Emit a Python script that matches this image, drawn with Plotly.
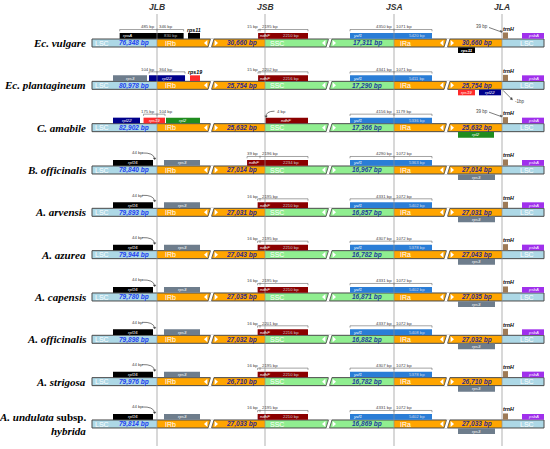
import plotly.graph_objects as go

# ---- values ----
species = ["Ec. vulgare", "Ec. plantagineum", "C. amabile", "B. officinalis",
           "A. arvensis", "A. azurea", "A. capensis", "A. officinalis",
           "A. strigosa", "A. undulata subsp. hybrida"]
lsc_bp = [76348, 80978, 82902, 78840, 79893, 79944, 79780, 79898, 79976, 79814]
ir_bp = [30660, 25754, 25632, 27014, 27031, 27043, 27035, 27032, 26710, 27033]
ssc_bp = [17311, 17290, 17366, 16967, 16857, 16782, 16871, 16882, 16782, 16869]
junctions = ["JLB", "JSB", "JSA", "JLA"]

# genes near JLB (above the bar) and below IRa
jlb_genes = [["rpoA", "rps11"], ["rps3", "rpl22", "rps19"], ["rpl22", "rps19", "rpl2"]] + [["rpl16", "rps3"]] * 7
jlb_cross = ["rpoA", "rpl22", "rps19"] + [None] * 7
jlb_left_bp = [485, 104, 175] + [None] * 7
jlb_right_bp = [346, 364, 104] + [None] * 7
rpoa_bp = 830
rpl16_gap_bp = [None, None, None, 44, 44, 44, 44, 44, 44, 44]
ira_genes = [["rps11"], ["rps19", "rpl22"], ["rpl2"]] + [["rps3"]] * 7

# ndhF at JSB
jsb_left_bp = [15, 15, None, 39, 16, 16, 16, 16, 16, 16]
jsb_right_bp = [2195, 2202, None, 2196, 2195, 2195, 2195, 2201, 2195, 2195]
ndhf_bp = [2210, 2216, None, 2234, 2210, 2210, 2210, 2216, 2210, 2210]
ndhf_gap_bp = [None, None, 4, None, None, None, None, None, None, None]

# ycf1 at JSA
jsa_left_bp = [4350, 4341, 4156, 4290, 4331, 4307, 4331, 4337, 4307, 4331]
jsa_right_bp = [1071, 1071, 1179, 1072, 1072, 1072, 1072, 1072, 1072, 1072]
ycf1_bp = [5420, 5411, 5336, 5363, 5402, 5378, 5402, 5408, 5378, 5402]

# trnH at JLA
trnh_gap_bp = [39, None, 39, None, None, None, None, None, None, None]
jla_shift_bp = [None, -1, None, None, None, None, None, None, None, None]

# ---- drawing layout ----
SANS = "Liberation Sans"
SERIF = "Liberation Serif"
X0, XE = 92, 544
XJ = [157, 265, 394, 502]
Y_TOP, DY, HB = 43, 42.33, 4
K_JLB, K_JSB = 0.077, 0.46          # px per bp used for overhangs
BREAKS = [211, 329, 447]
C_LSC, C_IR, C_SSC = "#add8e6", "#ffa500", "#90ee90"
GENE_COLOR = {"rpoA": "#000000", "rps11": "#000000", "rpl16": "#000000",
              "rps3": "#6e7d8c", "rpl22": "#00008b", "rps19": "#ff2b2b",
              "rpl2": "#1f8c1f", "ndhF": "#8b0000", "ycf1": "#2a7dd6",
              "trnH": "#9e7b57", "psbA": "#a030ec"}
JLB_FIXED = [{"rps11": (188, 200)},
             {"rps3": (113, 147), "rps19": (190, 200)},
             {"rpl22": (113, 140), "rpl2": (166, 200)}] + [{"rpl16": (113, 153), "rps3": (164, 200)}] * 7
IRA_BOX = {"rps11": (458, 475), "rps19": (458, 475), "rpl22": (479, 501),
           "rpl2": (458, 494), "rps3": (458, 495)}
NAME_SIZE = 11

shapes, ann = [], []


def rect(x0, x1, y0, y1, fill, lc=None, lw=0):
    shapes.append(dict(type="rect", xref="x", yref="y", x0=x0, x1=x1, y0=y0, y1=y1,
                       fillcolor=fill, line=dict(color=lc or fill, width=lw)))


def seg(x0, y0, x1, y1, color="#555555", w=0.6):
    shapes.append(dict(type="line", xref="x", yref="y", x0=x0, y0=y0, x1=x1, y1=y1,
                       line=dict(color=color, width=w)))


def path(d, fill=None, color="#555555", w=0.6):
    shapes.append(dict(type="path", xref="x", yref="y", path=d,
                       fillcolor=fill or "rgba(0,0,0,0)", line=dict(color=color, width=w)))


def txt(x, y, s, size, color="#000000", anchor="center", family=SANS):
    ann.append(dict(x=x, y=y, xref="x", yref="y", text=s, showarrow=False,
                    xanchor=anchor, yanchor="middle", borderpad=0,
                    font=dict(size=size, color=color, family=family)))


def dim(x0, x1, xm, y, left, right):
    seg(x0, y, x1, y, "#666666", 0.6)
    seg(x0, y, x0, y + 1.8, "#666666", 0.6)
    seg(x1, y, x1, y + 1.8, "#666666", 0.6)
    seg(xm, y - 0.8, xm, y + 1.8, "#666666", 0.6)
    txt(xm - 0.8, y - 2.6, left, 4.3, "#444444", "right")
    txt(xm + 0.8, y - 2.6, right, 4.3, "#444444", "left")


def gene(x0, x1, y0, y1, name, inside=True):
    rect(x0, x1, y0, y1, GENE_COLOR[name])
    if inside:
        txt((x0 + x1) / 2, (y0 + y1) / 2, f"<i>{name}</i>", 4.3, "#ffffff")
    else:
        txt((x0 + x1) / 2, y0 - 3.5, f"<b><i>{name}</i></b>", 5.3)


def brk(xc, yc):
    t, b = yc - HB - 0.6, yc + HB + 0.6
    path(f"M{xc-3},{b} L{xc-0.5},{t} L{xc+3},{t} L{xc+0.5},{b} Z", "#ffffff", "#ffffff", 0)
    seg(xc - 3, yc + HB, xc - 0.5, yc - HB, "#444444", 0.8)
    seg(xc + 0.5, yc + HB, xc + 3, yc - HB, "#444444", 0.8)
    path(f"M{xc-7},{yc} L{xc-3.6},{yc-3} L{xc-3.6},{yc+3} Z", "#ffffff", "#ffffff", 0)
    path(f"M{xc+7},{yc} L{xc+3.6},{yc-3} L{xc+3.6},{yc+3} Z", "#ffffff", "#ffffff", 0)


for i, sp in enumerate(species):
    yc = Y_TOP + i * DY
    # species name
    if "subsp." in sp:
        genus, rest = sp.split(" subsp. ")
        txt(87, yc - 6.5, f"<b><i>{genus}</i> subsp.</b>", NAME_SIZE, "#000000", "right", SERIF)
        txt(87, yc + 7.5, f"<b><i>{rest}</i></b>", NAME_SIZE, "#000000", "right", SERIF)
    else:
        txt(87, yc, f"<b><i>{sp}</i></b>", NAME_SIZE, "#000000", "right", SERIF)

    # genome bar
    bounds = [X0] + XJ + [XE]
    fills = [C_LSC, C_IR, C_SSC, C_IR, C_LSC]
    for a, b, c in zip(bounds[:-1], bounds[1:], fills):
        rect(a, b, yc - HB, yc + HB, c)
    rect(X0, XE, yc - HB, yc + HB, "rgba(0,0,0,0)", "#4a4a4a", 1)
    for xb in BREAKS:
        brk(xb, yc)
    for lbl, xl in zip(["LSC", "IRb", "SSC", "IRa", "LSC"], [94, 164, 269, 399, 519]):
        txt(xl, yc + 0.3, lbl, 7, "#ffffff", "left")
    txt(150, yc + 0.3, f"<b><i>{lsc_bp[i]:,} bp</i></b>", 6.5, "#2040f0", "right")
    txt(258, yc + 0.3, f"<b><i>{ir_bp[i]:,} bp</i></b>", 6.5, "#2e2a8e", "right")
    txt(383, yc + 0.3, f"<b><i>{ssc_bp[i]:,} bp</i></b>", 6.5, "#1c3c9c", "right")
    txt(493, yc + 0.3, f"<b><i>{ir_bp[i]:,} bp</i></b>", 6.5, "#2e2a8e", "right")

    gy0, gy1 = yc - 10, yc - HB - 0.3
    # JLB genes
    for g in jlb_genes[i]:
        if g == jlb_cross[i]:
            x0 = XJ[0] - jlb_left_bp[i] * K_JLB
            x1 = XJ[0] + jlb_right_bp[i] * K_JLB
            dim(x0, x1, XJ[0], yc - 13.5, f"{jlb_left_bp[i]} bp", f"{jlb_right_bp[i]} bp")
            if g == "rpoA":
                rect(x0, x1, gy0, gy1, GENE_COLOR[g])
                txt(x0 + 8, (gy0 + gy1) / 2, f"<i>{g}</i>", 4.3, "#ffffff")
                txt(x1 - 13, (gy0 + gy1) / 2, f"{rpoa_bp} bp", 4.3, "#b0b0b0")
                continue
        else:
            x0, x1 = JLB_FIXED[i][g]
        gene(x0, x1, gy0, gy1, g, inside=(x1 - x0) >= 14)
    if rpl16_gap_bp[i]:
        txt(137, yc - 17, f"{rpl16_gap_bp[i]} bp", 4.3, "#444444")
        path(f"M142,{yc-17} Q153.5,{yc-17.5} 154.6,{yc-11.5}", None, "#444444", 0.7)
        path(f"M153.2,{yc-12} L156,{yc-12} L154.7,{yc-10.2} Z", "#444444", "#444444", 0.3)

    # ndhF at JSB
    if jsb_left_bp[i] is not None:
        x0 = XJ[1] - jsb_left_bp[i] * K_JSB
        rect(x0, 308, gy0, gy1, GENE_COLOR["ndhF"])
        txt(x0 + 1, (gy0 + gy1) / 2, "<i>ndhF</i>", 4.3, "#ffffff", "left")
        txt(291, (gy0 + gy1) / 2, f"{ndhf_bp[i]} bp", 4.3, "#c8c8c8")
        dim(x0, 308, 260, yc - 13.5, f"{jsb_left_bp[i]} bp", f"{jsb_right_bp[i]} bp")
    else:
        x0 = XJ[1] + 0.5
        rect(x0, 308, gy0, gy1, GENE_COLOR["ndhF"])
        txt(286, (gy0 + gy1) / 2, "<i>ndhF</i>", 4.3, "#ffffff")
        path(f"M{x0+0.5},{yc-10.5} Q{x0},{yc-16.5} {x0+9},{yc-16.5}", None, "#444444", 0.7)
        path(f"M{x0-0.8},{yc-11.8} L{x0+1.8},{yc-11.8} L{x0+0.5},{yc-10} Z", "#444444", "#444444", 0.3)
        txt(x0 + 10, yc - 16.5, f"{ndhf_gap_bp[i]} bp", 4.3, "#444444", "left")

    # ycf1 at JSA
    rect(350, 432, gy0, gy1, GENE_COLOR["ycf1"])
    txt(352, (gy0 + gy1) / 2, "<i>ycf1</i>", 4.3, "#ffffff", "left")
    txt(417, (gy0 + gy1) / 2, f"{ycf1_bp[i]} bp", 4.3, "#d0d8e8")
    dim(350, 432, XJ[2], yc - 13.5, f"{jsa_left_bp[i]} bp", f"{jsa_right_bp[i]} bp")

    # trnH / psbA at JLA
    rect(503, 508, yc - 10.5, gy1, GENE_COLOR["trnH"])
    txt(508, yc - 14.5, "<b><i>trnH</i></b>", 5.3)
    gene(522, 544, gy0, gy1, "psbA")
    if trnh_gap_bp[i]:
        txt(482, yc - 16.5, f"{trnh_gap_bp[i]} bp", 4.5, "#444444")
        seg(489, yc - 15.5, 501.5, yc - 11, "#444444", 0.7)
        path(f"M500,{yc-12.6} L501.2,{yc-10.3} L502.8,{yc-11.9} Z", "#444444", "#444444", 0.3)
    if jla_shift_bp[i] is not None:
        seg(503, yc + 5, 511.5, yc + 13.5, "#444444", 0.7)
        path(f"M510,{yc+13.8} L512.6,{yc+14.6} L511.8,{yc+12} Z", "#444444", "#444444", 0.3)
        txt(514, yc + 16, f"{jla_shift_bp[i]}bp", 4.5, "#444444", "left")

    # genes below IRa
    for g in ira_genes[i]:
        x0, x1 = IRA_BOX[g]
        rect(x0, x1, yc + HB + 0.3, yc + 10, GENE_COLOR[g])
        w = "<b><i>%s</i></b>" if g == "rps11" else "<i>%s</i>"
        txt((x0 + x1) / 2, yc + 7.2, w % g, 4.3, "#ffffff")

# junction lines and headers
for name, xj in zip(junctions, XJ):
    seg(xj, 14, xj, 446, "rgba(140,140,140,0.85)", 0.8)
    txt(xj, 6.5, f"<b><i>{name}</i></b>", 8.5, "#333333")

fig = go.Figure()
fig.update_layout(
    width=550, height=449,
    margin=dict(l=0, r=0, t=0, b=0),
    paper_bgcolor="white", plot_bgcolor="white",
    xaxis=dict(range=[0, 550], visible=False, fixedrange=True),
    yaxis=dict(range=[449, 0], visible=False, fixedrange=True),
    shapes=shapes, annotations=ann, showlegend=False,
)
# the page body has a default 8px margin; drop it so the figure fills the window
fig.write_html("out.html", config={"displayModeBar": False},
               post_script="document.body.style.margin='0';document.body.style.overflow='hidden';")
